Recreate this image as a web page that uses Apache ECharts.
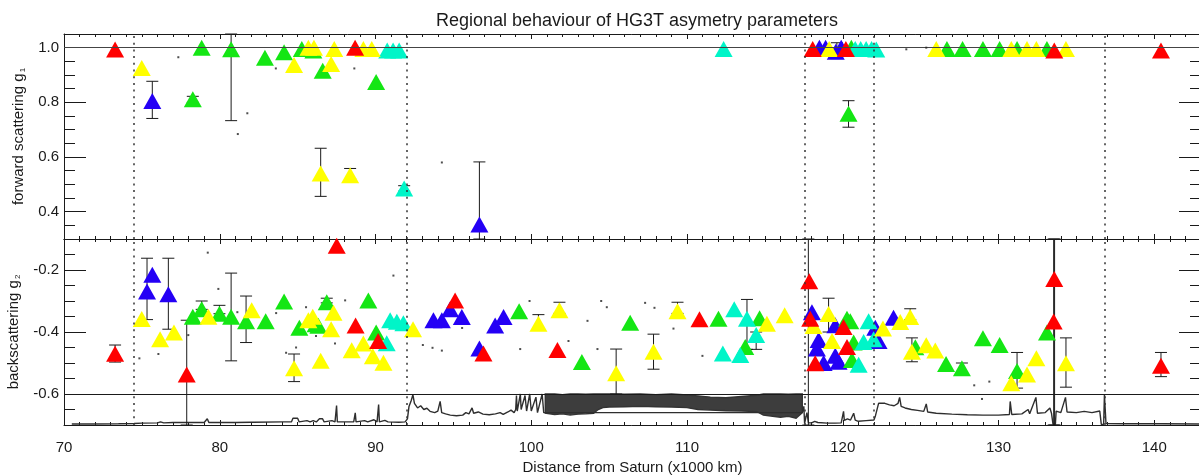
<!DOCTYPE html>
<html><head><meta charset="utf-8">
<script src="https://cdn.jsdelivr.net/npm/echarts@6/dist/echarts.min.js"></script>
<style>html,body{margin:0;padding:0;background:#fff}#c{width:1199px;height:475px}</style>
</head><body><div id="c"></div><script>
// ---------- DATA ----------
const titleText = 'Regional behaviour of HG3T asymetry parameters';
const xName = 'Distance from Saturn (x1000 km)';
const xTicks = [70, 80, 90, 100, 110, 120, 130, 140];
const g1Ticks = [0.4, 0.6, 0.8, 1.0];
const g2Ticks = [-0.6, -0.4, -0.2];
const ringEdges = [74.5, 92.0, 117.55, 122.0, 136.85];

// forward scattering g1 : [distance, g1]
const redG1 = [[73.28,0.993],[88.69,1.0],[118.07,0.995],[120.2,0.995],[133.58,0.99],[140.43,0.99]];
const yellowG1 = [[74.99,0.926],[84.77,0.937],[85.69,1.0],[86.05,1.0],[86.48,0.54],[87.15,0.94],[87.35,0.995],[88.37,0.533],[89.22,0.995],[89.76,0.995],[119.13,0.995],[126.0,0.995],[130.82,0.995],[131.83,0.995],[132.43,0.995],[134.33,0.995]];
const greenG1 = [[78.27,0.811],[78.84,1.0],[80.73,0.994],[82.9,0.963],[84.13,0.983],[85.27,0.995],[86.01,0.99],[86.61,0.916],[90.04,0.874],[120.37,0.758],[120.55,1.0],[126.69,0.995],[127.69,0.995],[129.0,0.995],[130.07,0.995],[131.19,0.995],[133.11,0.995]];
const blueG1 = [[75.67,0.805],[96.67,0.353],[118.5,1.0],[118.9,1.0],[119.55,0.985],[119.9,1.0]];
const cyanG1 = [[90.75,0.99],[91.13,0.99],[91.52,0.99],[91.84,0.485],[112.35,0.995],[120.8,0.995],[121.15,0.995],[121.5,0.995],[121.85,0.995],[122.15,0.993]];
// error bars g1 : [distance, low, high]
const errG1 = [[75.67,0.741,0.877],[78.27,0.80,0.822],[80.73,0.733,1.05],[86.48,0.456,0.632],[88.37,0.52,0.558],[91.84,0.475,0.495],[96.67,0.3,0.582],[119.62,0.96,1.018],[120.37,0.709,0.806]];
const dotsG1 = [[77.34,0.965],[81.77,0.76],[81.16,0.684],[83.6,0.924],[88.64,0.924],[94.26,0.58],[124.08,0.994],[125.36,1.0]];

// backscattering g2 : [distance, g2]
const redG2 = [[73.28,-0.47],[77.88,-0.537],[87.51,-0.122],[88.72,-0.379],[90.17,-0.429],[95.11,-0.298],[96.93,-0.469],[101.68,-0.458],[110.8,-0.359],[117.85,-0.236],[117.91,-0.357],[118.23,-0.501],[120.05,-0.384],[120.27,-0.448],[133.54,-0.366],[133.58,-0.229],[140.43,-0.509]];
const yellowG2 = [[74.99,-0.358],[76.17,-0.423],[77.06,-0.402],[79.27,-0.351],[82.05,-0.33],[84.77,-0.517],[85.69,-0.362],[85.97,-0.351],[86.48,-0.493],[87.15,-0.391],[87.3,-0.338],[88.47,-0.459],[89.22,-0.437],[89.83,-0.478],[90.51,-0.499],[92.41,-0.391],[100.46,-0.373],[101.81,-0.33],[105.45,-0.533],[107.85,-0.464],[109.39,-0.333],[115.13,-0.373],[116.27,-0.346],[118.12,-0.381],[119.09,-0.342],[119.31,-0.429],[122.58,-0.389],[123.69,-0.368],[124.33,-0.352],[124.44,-0.464],[125.36,-0.443],[125.94,-0.46],[130.82,-0.565],[131.83,-0.537],[132.43,-0.485],[134.33,-0.501]];
const greenG2 = [[78.27,-0.351],[78.84,-0.327],[79.98,-0.341],[80.73,-0.351],[81.69,-0.365],[82.95,-0.365],[84.13,-0.302],[85.11,-0.386],[86.15,-0.375],[86.33,-0.38],[86.87,-0.304],[89.54,-0.298],[90.04,-0.402],[99.22,-0.333],[103.25,-0.497],[106.35,-0.37],[112.02,-0.357],[113.74,-0.448],[114.66,-0.356],[120.27,-0.357],[120.48,-0.365],[120.7,-0.434],[120.59,-0.49],[124.66,-0.449],[126.63,-0.503],[127.65,-0.517],[129.0,-0.42],[130.07,-0.442],[131.19,-0.526],[133.11,-0.402]];
const blueG2 = [[75.33,-0.269],[75.67,-0.215],[76.7,-0.278],[93.72,-0.362],[94.26,-0.362],[94.79,-0.327],[95.54,-0.352],[96.67,-0.453],[97.68,-0.379],[98.22,-0.352],[118.02,-0.336],[118.34,-0.453],[118.45,-0.426],[118.77,-0.5],[119.52,-0.378],[119.52,-0.477],[119.73,-0.496],[122.09,-0.386],[122.3,-0.429],[123.26,-0.354]];
const cyanG2 = [[90.72,-0.436],[90.94,-0.362],[91.37,-0.367],[91.79,-0.372],[112.3,-0.469],[113.03,-0.327],[113.42,-0.474],[113.85,-0.357],[114.44,-0.41],[121.02,-0.506],[121.34,-0.432],[121.66,-0.365],[121.98,-0.423]];
const errG2 = [[73.28,-0.497,-0.442],[75.33,-0.36,-0.162],[76.70,-0.391,-0.162],[77.88,-0.7,-0.362],[78.84,-0.327,-0.30],[79.98,-0.341,-0.314],[80.73,-0.493,-0.21],[81.69,-0.434,-0.284],[84.77,-0.56,-0.471],[86.87,-0.306,-0.291],[100.46,-0.39,-0.344],[101.81,-0.34,-0.304],[105.45,-0.6,-0.455],[107.85,-0.52,-0.407],[109.39,-0.34,-0.304],[113.85,-0.456,-0.295],[114.44,-0.456,-0.40],[117.79,-0.7,-0.1],[119.09,-0.40,-0.291],[124.33,-0.36,-0.325],[124.44,-0.496,-0.419],[127.65,-0.53,-0.50],[131.19,-0.581,-0.466],[133.54,-0.7,-0.1],[133.6,-0.7,-0.1],[134.33,-0.578,-0.419],[140.43,-0.544,-0.466]];
const dotsG2 = [[79.23,-0.144],[79.91,-0.261],[74.84,-0.485],[76.06,-0.471],[77.98,-0.41],[81.13,-0.336],[83.62,-0.339],[84.26,-0.467],[84.9,-0.45],[85.54,-0.32],[86.18,-0.413],[88.05,-0.298],[87.4,-0.437],[91.15,-0.218],[93.04,-0.442],[93.66,-0.451],[94.26,-0.46],[95.56,-0.387],[99.29,-0.455],[99.89,-0.3],[102.39,-0.429],[103.61,-0.364],[104.25,-0.455],[104.49,-0.3],[104.85,-0.32],[107.31,-0.306],[107.91,-0.322],[109.13,-0.389],[110.99,-0.477],[128.44,-0.572],[129.41,-0.56],[128.94,-0.616]];

// radial profile trace (drawn in the g2 panel below -0.6)
const profile = [[70.5,-0.697],[72.0,-0.697],[73.5,-0.696],[74.5,-0.695],[75.0,-0.694],[76.0,-0.693],[76.2,-0.690],[76.4,-0.693],[77.0,-0.692],[77.1,-0.688],[77.3,-0.692],[78.0,-0.692],[79.0,-0.692],[79.2,-0.680],[79.3,-0.692],[80.0,-0.692],[80.1,-0.688],[80.3,-0.692],[81.0,-0.692],[82.0,-0.691],[82.05,-0.687],[82.2,-0.691],[84.0,-0.690],[84.6,-0.690],[84.7,-0.678],[85.0,-0.678],[85.1,-0.690],[85.6,-0.686],[85.8,-0.690],[86.0,-0.686],[86.2,-0.690],[86.4,-0.680],[86.6,-0.680],[86.7,-0.690],[87.2,-0.686],[87.4,-0.690],[87.5,-0.637],[87.55,-0.690],[88.3,-0.690],[88.4,-0.686],[88.6,-0.690],[88.7,-0.661],[88.75,-0.690],[89.3,-0.686],[89.5,-0.690],[89.9,-0.683],[90.1,-0.690],[90.2,-0.634],[90.25,-0.690],[90.6,-0.685],[90.8,-0.690],[91.5,-0.691],[91.9,-0.690],
 [92.05,-0.680],[92.15,-0.640],[92.3,-0.620],[92.4,-0.602],[92.5,-0.630],[92.7,-0.645],[92.9,-0.638],[93.1,-0.650],[93.3,-0.646],[93.5,-0.656],[93.8,-0.660],[94.0,-0.655],[94.15,-0.624],[94.25,-0.660],[94.5,-0.664],[94.8,-0.668],[95.2,-0.670],[95.6,-0.668],[95.8,-0.660],[96.0,-0.664],[96.2,-0.645],[96.3,-0.662],[96.6,-0.658],[96.9,-0.665],[97.3,-0.667],[97.7,-0.664],[98.0,-0.660],[98.2,-0.666],[98.5,-0.658],[98.7,-0.652],[98.9,-0.660],[99.0,-0.650],
 [99.05,-0.605],[99.1,-0.655],[99.3,-0.600],[99.35,-0.650],[99.6,-0.605],[99.7,-0.655],[99.9,-0.600],[100.0,-0.655],[100.3,-0.610],[100.4,-0.660],[100.7,-0.600],[100.8,-0.660],[117.4,-0.660],
 [117.5,-0.640],[117.55,-0.695],[117.7,-0.660],[117.8,-0.693],[118.0,-0.693],[118.2,-0.688],[118.4,-0.692],[119.0,-0.694],[119.5,-0.694],[119.9,-0.693],[120.0,-0.690],[120.05,-0.656],[120.1,-0.685],[120.3,-0.680],[120.5,-0.684],[120.7,-0.662],[120.8,-0.684],[121.0,-0.688],[121.5,-0.686],[122.0,-0.684],[122.1,-0.670],[122.3,-0.630],[122.4,-0.624],[122.7,-0.630],[123.0,-0.635],[123.3,-0.638],[123.55,-0.630],[123.65,-0.611],[123.75,-0.640],[124.0,-0.645],[124.4,-0.650],[124.8,-0.653],[125.2,-0.656],[125.36,-0.632],[125.45,-0.658],[126,-0.662],[127,-0.665],[128,-0.667],[129,-0.668],[130,-0.668],[130.7,-0.666],[130.75,-0.624],[130.85,-0.666],[131.5,-0.664],[131.9,-0.650],[132.0,-0.664],[132.4,-0.611],[132.5,-0.662],[133.0,-0.660],[133.3,-0.645],[133.4,-0.662],[133.5,-0.698],[133.65,-0.698],[133.7,-0.655],[134.0,-0.660],[134.3,-0.611],[134.4,-0.658],[135.0,-0.660],[135.5,-0.656],[136.0,-0.660],[136.5,-0.655],[136.6,-0.698],[136.75,-0.698],[136.8,-0.602],[136.9,-0.695],[138,-0.696],[140.3,-0.696],[140.4,-0.690],[140.5,-0.696],[143,-0.697]];
// dense B-ring part of the trace: lower / upper envelope
const bandX    = [100.9,101.5,102,102.5,103,103.5,104,104.3,104.6,105,106,107,108,109,110,110.7,111.5,112.5,113.5,114.5,114.9,115.5,116,116.5,117,117.4];
const bandLow  = [-0.662,-0.666,-0.664,-0.668,-0.665,-0.664,-0.662,-0.650,-0.644,-0.642,-0.641,-0.640,-0.641,-0.642,-0.644,-0.650,-0.652,-0.654,-0.655,-0.657,-0.668,-0.672,-0.675,-0.672,-0.678,-0.660];
const bandHigh = [-0.600,-0.600,-0.602,-0.600,-0.600,-0.601,-0.600,-0.600,-0.600,-0.600,-0.601,-0.600,-0.602,-0.600,-0.603,-0.606,-0.610,-0.612,-0.608,-0.604,-0.600,-0.600,-0.600,-0.601,-0.600,-0.600];

// ---------- STYLE ----------
const INK = '#1a1a1a';
const FONT = 'Liberation Sans';
const COL = {red:'#ff0000', yellow:'#ffff00', green:'#14e614', blue:'#2400f5', cyan:'#00f5c8'};

function xa(gi, pos, interval, len, extra) {
  return Object.assign({
    type:'value', gridIndex:gi, position:pos, min:70, max:143, interval:interval,
    axisLine:{show:false}, axisTick:{show:true, inside:true, length:len, lineStyle:{color:INK, width:1}},
    axisLabel:{show:false}, splitLine:{show:false}
  }, extra || {});
}
function ya(gi, pos, mn, mx, len, custom, extra) {
  const tick = {show:true, inside:true, length:len, lineStyle:{color:INK, width:1}};
  if (custom) tick.customValues = custom;
  return Object.assign({
    type:'value', gridIndex:gi, position:pos, min:mn, max:mx, interval:0.05,
    axisLine:{show:false}, axisTick:tick, axisLabel:{show:false}, splitLine:{show:false}
  }, extra || {});
}
const frameLine = {show:true, onZero:false, lineStyle:{color:INK, width:1}};
const lblStyle = (vals) => ({show:true, customValues:vals, formatter:v => Number(v).toFixed(1), fontSize:15, fontFamily:FONT, color:INK, margin:5});
const nameStyle = {fontSize:15, fontFamily:FONT, color:INK, rich:{s:{fontSize:8, fontFamily:FONT, color:INK, verticalAlign:'bottom', padding:[0,0,-1,1]}}};

const xAxes = [
  xa(0,'bottom',10,5,{axisLine:frameLine}), xa(0,'bottom',1,3),
  xa(0,'top',10,5,{axisLine:frameLine}),    xa(0,'top',1,3),
  xa(1,'bottom',10,5,{axisLine:frameLine, axisLabel:{show:true, customValues:xTicks, fontSize:15, fontFamily:FONT, color:INK, margin:15},
      name:xName, nameLocation:'middle', nameGap:35, nameTextStyle:{fontSize:15, fontFamily:FONT, color:INK}}),
  xa(1,'bottom',1,3),
  xa(1,'top',10,5,{axisLine:frameLine}), xa(1,'top',1,3)
];
const yAxes = [
  ya(0,'left',0.3,1.05,22,g1Ticks,{axisLine:frameLine, axisLabel:lblStyle(g1Ticks),
      name:'forward scattering g{s|1}', nameLocation:'middle', nameGap:35, nameTextStyle:nameStyle}),
  ya(0,'left',0.3,1.05,11,null),
  ya(0,'right',0.3,1.05,22,g1Ticks), ya(0,'right',0.3,1.05,11,null),
  ya(1,'left',-0.7,-0.1,22,g2Ticks,{axisLine:frameLine, axisLabel:lblStyle(g2Ticks),
      name:'backscattering g{s|2}', nameLocation:'middle', nameGap:38, nameTextStyle:nameStyle}),
  ya(1,'left',-0.7,-0.1,11,null),
  ya(1,'right',-0.7,-0.1,22,g2Ticks), ya(1,'right',-0.7,-0.1,11,null)
];

const dotted = {type:[2,4.7], color:'#333', width:1.5};
function refSeries(xi, yi, hLine, hStyle) {
  return {type:'line', xAxisIndex:xi, yAxisIndex:yi, data:[], z:1, silent:true,
    markLine:{silent:true, symbol:['none','none'], label:{show:false}, animation:false,
      data: ringEdges.map(v => ({xAxis:v, lineStyle:dotted})).concat([{yAxis:hLine, lineStyle:hStyle}])}};
}
function errRender(params, api) {
  const x = api.value(0), lo = api.value(1), hi = api.value(2);
  const a = api.coord([x, lo]), b = api.coord([x, hi]);
  const w = 6, st = {stroke:INK, lineWidth:1};
  return {type:'group', children:[
    {type:'line', shape:{x1:a[0], y1:a[1], x2:b[0], y2:b[1]}, style:st},
    {type:'line', shape:{x1:a[0]-w, y1:a[1], x2:a[0]+w, y2:a[1]}, style:st},
    {type:'line', shape:{x1:b[0]-w, y1:b[1], x2:b[0]+w, y2:b[1]}, style:st}
  ]};
}
function errSeries(data, xi, yi) {
  return {type:'custom', xAxisIndex:xi, yAxisIndex:yi, data:data, renderItem:errRender, z:3, silent:true,
    encode:{x:0, y:[1,2]}};
}
function tri(data, color, xi, yi) {
  return {type:'scatter', xAxisIndex:xi, yAxisIndex:yi, data:data, symbol:'triangle', symbolSize:[18,16],
    itemStyle:{color:color, opacity:1}, z:4, silent:true, emphasis:{disabled:true}};
}
function dots(data, xi, yi) {
  return {type:'scatter', xAxisIndex:xi, yAxisIndex:yi, data:data, symbol:'rect', symbolSize:[2,2],
    itemStyle:{color:'#222'}, z:5, silent:true};
}

const option = {
  animation:false,
  backgroundColor:'#fff',
  title:{text:titleText, left:632, textAlign:'center', top:7, textStyle:{fontSize:18, fontWeight:'normal', fontFamily:FONT, color:INK}},
  grid:[
    {left:64, top:34, width:1137, height:205, containLabel:false, outerBoundsMode:'none'},
    {left:64, top:239, width:1137, height:186, containLabel:false, outerBoundsMode:'none'}
  ],
  xAxis:xAxes,
  yAxis:yAxes,
  series:[
    refSeries(0,0,1.0,{type:'solid', color:'#444', width:1.2}),
    refSeries(4,4,-0.6,{type:'solid', color:INK, width:1}),
    {type:'custom', xAxisIndex:4, yAxisIndex:4, data:[[bandX[0], bandLow[0]]], z:2, silent:true,
      renderItem:function(params, api){
        const pts = [];
        for (let i = 0; i < bandX.length; i++) pts.push(api.coord([bandX[i], bandHigh[i]]));
        for (let i = bandX.length - 1; i >= 0; i--) pts.push(api.coord([bandX[i], bandLow[i]]));
        return {type:'polygon', shape:{points:pts}, style:{fill:'#3d3d3d', stroke:'#333', lineWidth:1.4}};
      }},
    {type:'line', xAxisIndex:4, yAxisIndex:4, data:profile, showSymbol:false, symbol:'none', z:2, silent:true,
      lineStyle:{color:'#2e2e2e', width:1.4}},
    errSeries(errG1,0,0), errSeries(errG2,4,4),
    tri(blueG1,COL.blue,0,0), tri(greenG1,COL.green,0,0), tri(cyanG1,COL.cyan,0,0), tri(yellowG1,COL.yellow,0,0), tri(redG1,COL.red,0,0),
    tri(blueG2,COL.blue,4,4), tri(greenG2,COL.green,4,4), tri(cyanG2,COL.cyan,4,4), tri(yellowG2,COL.yellow,4,4), tri(redG2,COL.red,4,4),
    dots(dotsG1,0,0), dots(dotsG2,4,4)
  ]
};
const chart = echarts.init(document.getElementById('c'), null, {renderer:'canvas'});
chart.setOption(option);
</script></body></html>
